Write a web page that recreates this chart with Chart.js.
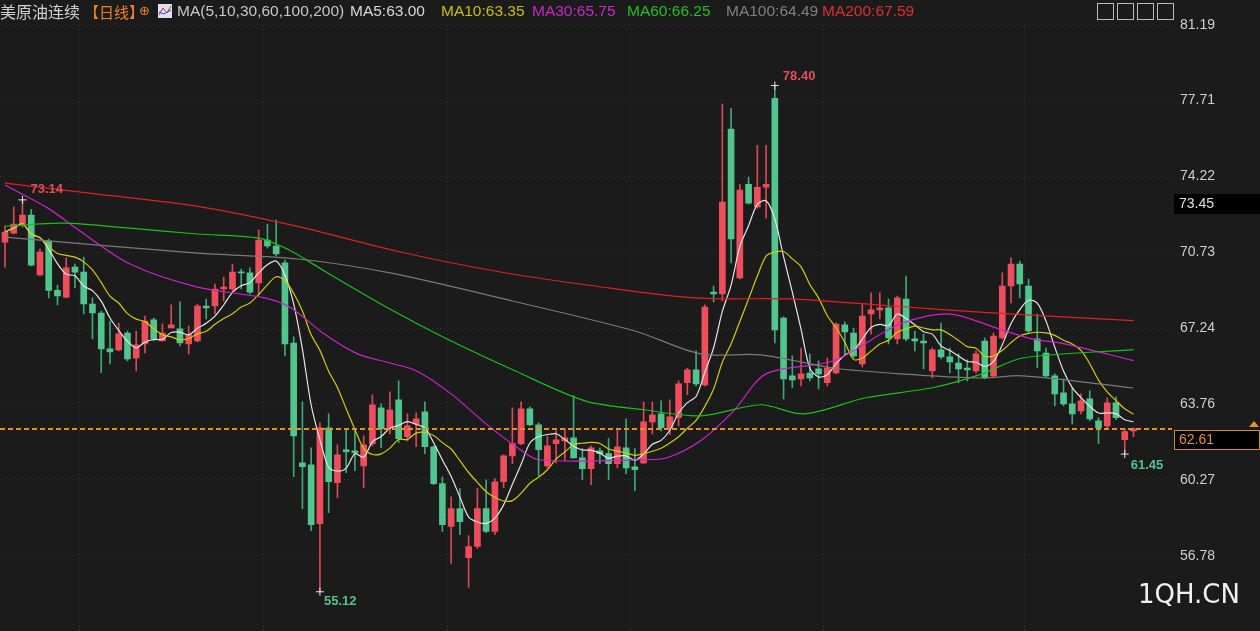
<!DOCTYPE html>
<html>
<head>
<meta charset="utf-8">
<script src="https://cdn.jsdelivr.net/npm/chart.js@4.4.1/dist/chart.umd.min.js"></script>
<style>
  html, body { margin: 0; padding: 0; background: #1b1b1b; }
  #wrap { width: 1260px; height: 631px; position: relative; }
</style>
</head>
<body>
<div id="wrap"><canvas id="kline"></canvas></div>
<script>
// 日K数据 [开, 收, 高, 低]
const candles = [
  [71.20,71.66,71.93,70.05],[71.61,72.03,72.81,71.57],[72.03,72.44,73.14,71.89],[72.44,70.14,72.71,70.10],
  [69.69,70.74,70.88,69.64],[71.25,68.98,71.34,68.63],[68.98,68.72,69.22,68.31],[68.67,70.01,70.47,68.63],
  [70.05,69.82,70.19,69.09],[69.82,68.35,70.51,67.89],[68.35,67.94,68.63,66.75],[67.94,66.29,68.03,65.19],
  [66.29,66.15,67.57,65.60],[66.24,66.98,67.48,66.20],[67.02,65.83,67.11,65.74],[65.87,66.47,67.11,65.28],
  [66.52,67.57,67.80,66.10],[67.62,66.75,67.71,66.65],[66.65,67.02,67.44,66.65],[67.25,67.39,68.31,67.25],
  [67.21,66.56,68.45,66.42],[66.52,66.93,67.34,66.06],[66.65,68.26,68.35,66.61],[68.26,68.17,68.58,67.66],
  [68.26,69.04,69.27,67.89],[69.04,69.13,69.59,68.49],[69.04,69.82,70.19,68.95],[69.82,69.78,69.96,69.04],
  [69.78,68.90,70.01,68.81],[69.32,71.29,71.75,68.81],[71.29,71.02,72.03,70.92],[71.02,70.65,72.21,70.56],
  [70.24,66.52,70.37,65.97],[66.56,62.29,66.84,60.41],[61.05,60.87,63.85,58.94],[60.96,58.21,61.74,57.93],
  [58.25,62.66,62.89,55.12],[62.66,60.18,63.30,58.76],[60.14,61.42,61.88,59.45],[61.65,61.56,62.61,60.60],
  [61.60,61.51,62.61,60.69],[60.91,61.88,62.29,59.91],[61.93,63.72,64.17,61.83],[63.58,62.61,63.76,61.74],
  [62.66,63.49,64.31,62.38],[63.95,62.16,64.82,61.97],[62.25,62.75,63.30,62.06],[62.84,63.07,63.35,61.79],
  [63.39,61.79,63.85,61.47],[61.79,60.09,61.83,60.04],[60.09,58.21,60.41,57.89],[58.12,58.94,59.49,56.42],
  [58.94,58.34,59.86,57.75],[56.69,57.20,57.70,55.32],[57.20,58.94,59.86,57.11],[58.94,57.89,60.27,57.84],
  [57.89,60.18,60.32,57.75],[60.18,61.37,61.42,59.91],[61.37,61.93,63.58,61.01],[61.93,63.53,63.85,61.88],
  [63.53,62.80,63.62,62.75],[62.80,61.65,62.89,60.46],[60.91,61.83,62.25,60.82],[61.93,62.11,62.52,61.05],
  [62.06,62.20,62.61,61.15],[62.20,61.28,64.13,61.28],[61.28,60.78,61.70,60.27],[60.78,61.74,61.83,60.04],
  [61.60,61.47,61.74,61.01],[61.47,61.01,62.16,60.27],[61.01,61.79,62.61,60.82],[61.74,60.82,63.07,60.55],
  [60.87,60.73,61.70,59.77],[61.05,62.93,63.85,61.01],[62.93,63.26,63.85,62.38],[63.30,62.66,63.90,62.52],
  [62.66,63.16,63.94,62.34],[63.12,64.68,64.82,62.75],[64.73,65.32,65.41,64.18],[65.32,64.68,66.20,64.59],
  [64.63,68.21,68.31,64.59],[68.90,68.81,69.18,68.45],[68.81,73.04,77.54,68.49],[76.39,71.34,77.35,70.24],
  [69.55,73.59,73.86,69.50],[73.86,72.99,74.18,72.94],[72.81,73.72,75.65,72.76],[73.72,73.86,75.65,72.30],
  [77.81,67.16,78.40,66.56],[67.71,64.91,67.76,63.99],[65.05,64.86,65.97,64.50],[64.91,65.14,66.33,64.59],
  [65.18,64.95,66.06,64.82],[65.37,65.14,65.74,64.45],[64.73,65.41,65.87,64.59],[65.18,67.43,67.48,65.14],
  [67.39,67.07,67.53,65.97],[67.02,65.97,67.25,65.87],[65.60,67.80,68.31,65.46],[67.89,68.08,68.86,66.97],
  [68.08,68.17,68.86,67.66],[68.17,66.79,68.58,66.52],[66.75,68.63,68.72,66.52],[68.58,66.75,69.64,66.65],
  [66.75,66.65,67.11,66.20],[66.65,66.56,66.97,65.37],[65.28,66.24,66.33,64.95],[66.24,65.92,67.48,65.83],
  [65.92,65.69,66.33,65.18],[65.64,65.37,66.06,64.73],[65.41,65.32,65.78,64.82],[65.28,66.06,66.20,65.18],
  [66.65,64.95,66.79,64.91],[65.05,66.88,67.02,64.95],[66.79,69.18,69.78,66.75],[69.18,70.19,70.47,68.40],
  [70.19,69.27,70.33,68.63],[69.18,67.11,69.50,67.02],[66.75,66.20,67.89,65.41],[66.10,65.05,66.33,65.00],
  [65.05,64.22,65.14,63.67],[64.27,63.76,64.91,63.67],[63.76,63.30,64.50,62.84],[63.44,63.90,64.22,63.30],
  [63.99,63.07,64.36,62.98],[62.98,62.66,63.12,61.93],[62.75,63.81,64.04,62.61],[63.81,63.12,64.08,63.03],
  [62.11,62.48,62.61,61.45],[62.52,62.61,62.66,62.25]
];

// 长周期均线 [序号, 值]
const ma30 = [[0,73.82],[4.9,72.76],[8.6,71.70],[14.3,70.19],[22,69.13],[29.7,68.63],[32.7,68.17],[36.5,66.97],
  [40.3,66.06],[44,65.64],[47,65.28],[51,64.22],[55,62.84],[58.6,61.74],[61,61.19],[73,61.19],[75.7,61.28],
  [79.5,62.06],[83.3,63.44],[87,65.14],[94.7,65.74],[102.3,67.43],[108,67.89],[113.6,67.21],[117.4,66.75],
  [121.1,66.52],[129,65.75]];
const ma60 = [[0,71.93],[6.7,72.07],[14.3,71.84],[22,71.57],[29,71.38],[32.7,70.79],[36.5,69.87],[44,68.12],
  [50.3,66.79],[58.3,65.28],[66.3,63.90],[73,63.49],[79.5,63.21],[86.4,63.72],[91.3,63.30],[98.4,64.04],
  [106,64.50],[111.7,65.14],[116.3,65.87],[129,66.25]];
const ma100 = [[0,71.43],[22,70.69],[33.5,70.42],[44,69.78],[58,68.49],[72,67.11],[79.5,66.06],[86.4,66.01],
  [94.7,65.41],[102.3,65.14],[111.7,64.95],[116.3,65.05],[129,64.49]];
const ma200 = [[0,73.91],[10.6,73.40],[21.9,72.85],[33.3,71.93],[44.7,70.79],[56,69.87],[67.4,69.18],
  [78.8,68.63],[90.1,68.58],[101.5,68.26],[112.8,67.94],[129,67.59]];

const yTicks = [81.19, 77.71, 74.22, 70.73, 67.24, 63.76, 60.27, 56.78];
const monthIdx = [9, 30, 51, 72, 94, 117];
const lastPrice = 62.61;
const markers = [
  { i: 2, v: 73.14, text: '73.14', color: '#d8505c', dx: 8, dy: -10 },
  { i: 88, v: 78.40, text: '78.40', color: '#e0505c', dx: 8, dy: -9 },
  { i: 36, v: 55.12, text: '55.12', color: '#52c48e', dx: 4, dy: 10 },
  { i: 128, v: 61.45, text: '61.45', color: '#52c48e', dx: 6, dy: 11 }
];

const UP = '#ee4e5c', DOWN = '#52c48e';

// 简单均线
function sma(n) {
  return candles.map((c, i) => {
    const from = Math.max(0, i - n + 1);
    let s = 0;
    for (let k = from; k <= i; k++) s += candles[k][1];
    return { x: i, y: s / (i - from + 1) };
  });
}

const bodies = candles.map((c, i) => ({ x: i, y: [c[0], c[1]] }));
const wicks = candles.map((c, i) => ({ x: i, y: [c[3], c[2]] }));
const isUp = i => candles[i][1] >= candles[i][0];
const pts = arr => arr.map(p => ({ x: p[0], y: p[1] }));

const lineDs = (data, color) => ({
  type: 'line', data: data, borderColor: color, borderWidth: 1.2, pointRadius: 0,
  tension: 0.3, order: 0
});

const overlay = {
  id: 'overlay',
  beforeDatasetsDraw(chart) {
    const { ctx, scales: { x } } = chart;
    ctx.save();
    ctx.strokeStyle = '#383838';
    ctx.setLineDash([1, 3]);
    monthIdx.forEach(m => {
      const px = Math.round(x.getPixelForValue(m - 0.5)) + 0.5;
      ctx.beginPath(); ctx.moveTo(px, 26); ctx.lineTo(px, 631); ctx.stroke();
    });
    ctx.restore();
  },
  afterDatasetsDraw(chart) {
    const { ctx, scales: { x, y } } = chart;
    ctx.save();
    // 最新价虚线
    const py = Math.round(y.getPixelForValue(lastPrice));
    ctx.strokeStyle = '#e8901c';
    ctx.lineWidth = 2;
    ctx.setLineDash([5, 3]);
    ctx.beginPath(); ctx.moveTo(0, py); ctx.lineTo(1172, py); ctx.stroke();
    ctx.setLineDash([]);
    ctx.lineWidth = 1;

    // 高低点标记
    ctx.font = 'bold 13px "Liberation Sans", Arial, sans-serif';
    ctx.textBaseline = 'middle';
    markers.forEach(m => {
      const mx = x.getPixelForValue(m.i), my = y.getPixelForValue(m.v);
      ctx.strokeStyle = '#e8e8e8';
      ctx.beginPath();
      ctx.moveTo(mx - 4, my); ctx.lineTo(mx + 4, my);
      ctx.moveTo(mx, my - 4); ctx.lineTo(mx, my + 4);
      ctx.stroke();
      ctx.fillStyle = m.color;
      ctx.textAlign = 'left';
      ctx.fillText(m.text, mx + m.dx, my + m.dy);
    });

    // 右侧价格框
    ctx.font = '14px "Liberation Sans", Arial, sans-serif';
    ctx.fillStyle = '#000';
    ctx.fillRect(1174, py + 1, 86, 20);
    ctx.strokeStyle = '#d9892b';
    ctx.strokeRect(1174.5, py + 1.5, 85, 19);
    ctx.fillStyle = '#e8902e';
    ctx.fillText('62.61', 1179, py + 11);
    ctx.fillStyle = '#000';
    ctx.fillRect(1174, 194, 86, 20);
    ctx.fillStyle = '#e0e0e0';
    ctx.fillText('73.45', 1179, 204);
    // 小箭头
    ctx.fillStyle = '#e8902e';
    ctx.beginPath(); ctx.moveTo(1249, py - 2); ctx.lineTo(1254, py - 8); ctx.lineTo(1259, py - 2); ctx.fill();

    // 水印
    ctx.font = '26px "DejaVu Sans", sans-serif';
    ctx.fillStyle = '#f0f0f0';
    ctx.fillText('1QH.CN', 1138, 596);

    // 顶部标题
    const put = (t, c, px, f) => { ctx.font = f; ctx.fillStyle = c; ctx.fillText(t, px, 12); };
    const cjk = '16px "Noto Sans CJK SC", sans-serif';
    const lat = '15.5px "Liberation Sans", Arial, sans-serif';
    put('美原油连续', '#d0d0d0', 0, cjk);
    put('【日线】', '#f08020', 84, '15px "Noto Sans CJK SC", sans-serif');
    put('⊕', '#f08020', 139, '13px "DejaVu Sans", sans-serif');
    ctx.fillStyle = '#e0e0f0'; ctx.fillRect(158, 4, 14, 14);
    ctx.strokeStyle = '#d03030'; ctx.beginPath(); ctx.moveTo(159, 15); ctx.lineTo(163, 8); ctx.lineTo(167, 13); ctx.lineTo(171, 6); ctx.stroke();
    ctx.strokeStyle = '#3050d0'; ctx.beginPath(); ctx.moveTo(159, 12); ctx.lineTo(164, 14); ctx.lineTo(171, 10); ctx.stroke();
    const heads = [
      ['MA(5,10,30,60,100,200)', '#c8c8c8', 177], ['MA5:63.00', '#d8d8d8', 350], ['MA10:63.35', '#c8c000', 441],
      ['MA30:65.75', '#c828c8', 532], ['MA60:66.25', '#20c020', 627], ['MA100:64.49', '#808080', 726],
      ['MA200:67.59', '#e03030', 822]
    ];
    heads.forEach(h => put(h[0], h[1], h[2], lat));

    // 工具按钮
    ctx.strokeStyle = '#bbbbbb';
    for (let k = 0; k < 4; k++) {
      ctx.strokeRect(1097.5 + k * 20, 3.5, 16, 16);
    }
    ctx.restore();
  }
};

new Chart(document.getElementById('kline'), {
  type: 'bar',
  data: {
    datasets: [
      {
        data: wicks, grouped: false, barThickness: 1, order: 2,
        backgroundColor: ctx => isUp(ctx.dataIndex) ? '#d84a57' : '#3fa878'
      },
      {
        data: bodies, grouped: false, barThickness: 6, minBarLength: 1, order: 1,
        backgroundColor: ctx => isUp(ctx.dataIndex) ? UP : DOWN
      },
      lineDs(pts(ma200), '#e02020'),
      lineDs(pts(ma100), '#7a7a7a'),
      lineDs(pts(ma60), '#18c018'),
      lineDs(pts(ma30), '#d020d0'),
      lineDs(sma(10), '#d4cc00'),
      lineDs(sma(5), '#e6e6e6')
    ]
  },
  options: {
    responsive: true, maintainAspectRatio: false, animation: false,
    layout: { padding: 0 },
    plugins: { legend: { display: false }, tooltip: { enabled: false } },
    scales: {
      x: { type: 'linear', min: -0.57, max: 133.4, offset: false, display: false },
      y: {
        position: 'right', min: 54.07, max: 81.576,
        afterBuildTicks: s => { s.ticks = yTicks.map(v => ({ value: v })); },
        afterFit: s => { s.width = 88; },
        grid: { color: '#363636', drawTicks: false },
        border: { display: false, dash: [1, 3] },
        ticks: {
          color: '#cfcfcf', padding: 8, font: { size: 14, family: '"Liberation Sans", Arial' },
          callback: v => v.toFixed(2)
        }
      }
    }
  },
  plugins: [overlay]
});
</script>
</body>
</html>
